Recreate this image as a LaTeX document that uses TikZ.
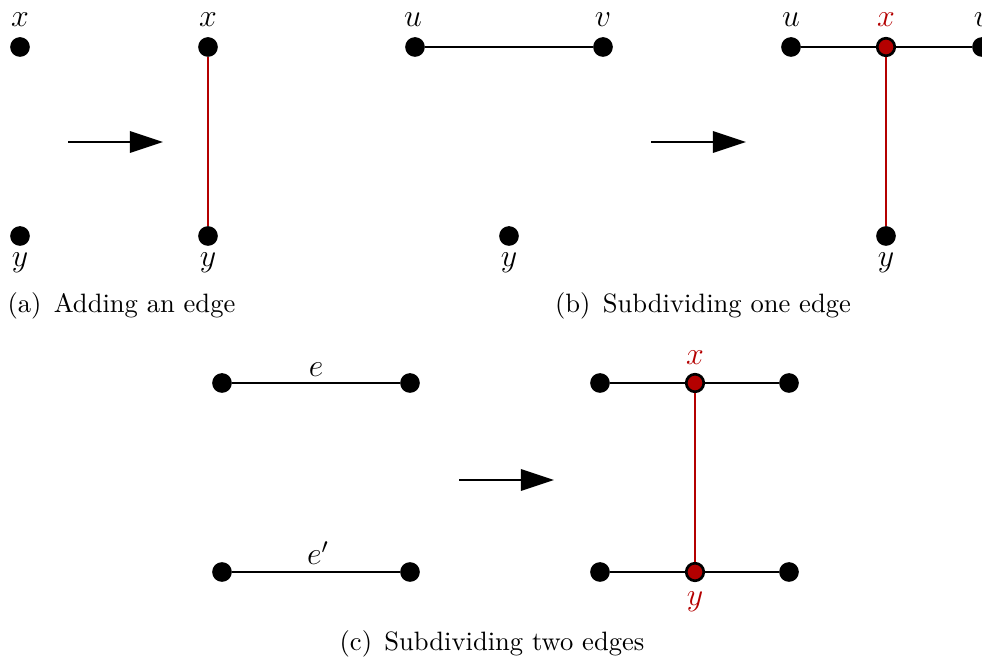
\documentclass[tikz,border=0pt]{standalone}
\usetikzlibrary{arrows.meta}
\definecolor{dred}{RGB}{180,0,0}
\tikzset{
  vtx/.style={circle,fill=black,draw=black,line width=0.6pt,inner sep=0pt,minimum size=6.8pt},
  rvtx/.style={circle,fill=dred,draw=black,line width=1pt,inner sep=0pt,minimum size=6.6pt},
  lbl/.style={inner sep=0pt,anchor=base,font=\large},
  edgeline/.style={line width=1pt},
  redge/.style={line width=0.9pt,draw=dred},
  bigarrow/.style={line width=1pt,-{Triangle[length=12.5pt,width=8pt]}},
  captxt/.style={inner sep=0pt}
}
\begin{document}
\begin{tikzpicture}[x=0.013228cm,y=-0.013228cm]
\useasboundingbox (0,0) rectangle (982,659);
\clip (0,0) rectangle (982,659);
% (a)
\node[vtx] (a1) at (20,47) {};
\node[vtx] (a2) at (20,236) {};
\node[lbl] (la1) at (20,27) {$x$};
\node[lbl] (la2) at (20,267) {$y$};
\coordinate (aa1) at (68,142);
\coordinate (aa2) at (163,142);
\draw[bigarrow] (aa1) -- (aa2);
\node[vtx] (a3) at (208,47) {};
\node[vtx] (a4) at (208,236) {};
\node[lbl] (la3) at (208,27) {$x$};
\node[lbl] (la4) at (208,267) {$y$};
\draw[redge] (a3) -- (a4);
\node[captxt,anchor=west] (capa) at (7,306) {(a)\hspace{1.3pt} Adding an edge};
% (b)
\node[vtx] (bu) at (415,47) {};
\node[vtx] (bv) at (603,47) {};
\node[vtx] (by) at (509,236) {};
\draw[edgeline] (bu) -- (bv);
\node[lbl] (lbu) at (413,27) {$u$};
\node[lbl] (lbv) at (603,27) {$v$};
\node[lbl] (lby) at (509,267) {$y$};
\coordinate (ba1) at (651,142);
\coordinate (ba2) at (746,142);
\draw[bigarrow] (ba1) -- (ba2);
\node[vtx] (bu2) at (791,47) {};
\node[vtx] (bv2) at (982,47) {};
\node[vtx] (by2) at (886,236) {};
\node[rvtx] (bx2) at (886,47) {};
\draw[edgeline] (bu2) -- (bx2) -- (bv2);
\draw[redge] (bx2) -- (by2);
\node[lbl] (lbu2) at (791,27) {$u$};
\node[lbl,text=dred] (lbx2) at (886,27) {$x$};
\node[lbl] (lbv2) at (982,27) {$v$};
\node[lbl] (lby2) at (886,267) {$y$};
\node[captxt] (capb) at (703,306) {(b)\hspace{1.3pt} Subdividing one edge};
% (c)
\node[vtx] (c1) at (222,383) {};
\node[vtx] (c2) at (410,383) {};
\node[vtx] (c3) at (222,572) {};
\node[vtx] (c4) at (410,572) {};
\draw[edgeline] (c1) -- (c2);
\draw[edgeline] (c3) -- (c4);
\node[lbl] (le) at (316,377) {$e$};
\node[lbl] (le2) at (318,565) {$e'$};
\coordinate (ca1) at (459,480);
\coordinate (ca2) at (554,480);
\draw[bigarrow] (ca1) -- (ca2);
\node[vtx] (d1) at (600,383) {};
\node[vtx] (d2) at (789,383) {};
\node[vtx] (d3) at (600,572) {};
\node[vtx] (d4) at (789,572) {};
\node[rvtx] (dx) at (695,383) {};
\node[rvtx] (dy) at (695,572) {};
\draw[edgeline] (d1) -- (dx) -- (d2);
\draw[edgeline] (d3) -- (dy) -- (d4);
\draw[redge] (dx) -- (dy);
\node[lbl,text=dred] (ldx) at (695,365) {$x$};
\node[lbl,text=dred] (ldy) at (695,606) {$y$};
\node[captxt] (capc) at (492,644) {(c)\hspace{1.3pt} Subdividing two edges};
\end{tikzpicture}
\end{document}
